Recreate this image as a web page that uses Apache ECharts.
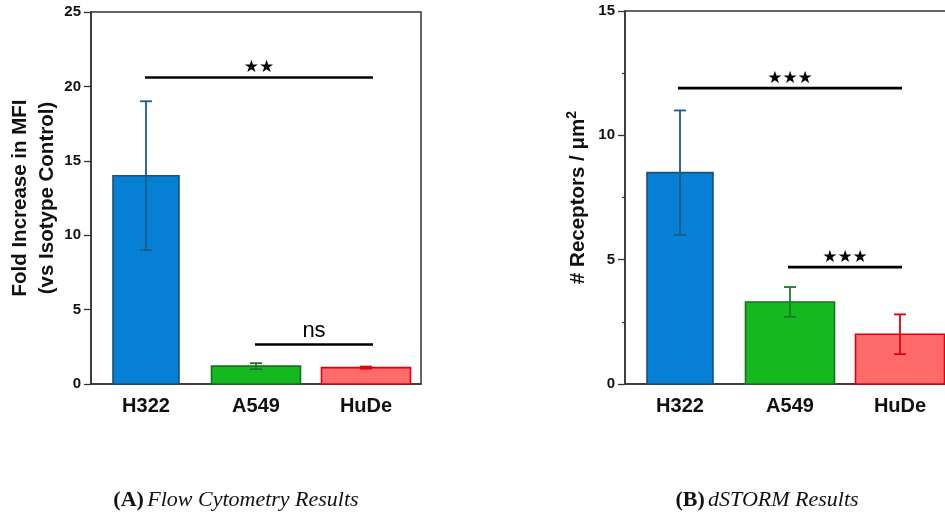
<!DOCTYPE html>
<html>
<head>
<meta charset="utf-8">
<script src="https://cdn.jsdelivr.net/npm/echarts@6/dist/echarts.min.js"></script>
<style>
  html, body { margin: 0; padding: 0; background: #fff; overflow: hidden; }
  #chart { width: 960px; height: 519px; }
</style>
</head>
<body>
<div id="chart"></div>
<script>
// Cell lines shown in both panels
const categories = ['H322', 'A549', 'HuDe'];

// (A) flow cytometry: fold increase in MFI, mean and error half-width
const flowMean = [14.0, 1.2, 1.1];
const flowErr = [5.0, 0.2, 0.07];

// (B) dSTORM: receptors per square micron, mean and error half-width
const stormMean = [8.5, 3.3, 2.0];
const stormErr = [2.5, 0.6, 0.8];

// Significance brackets: [from category, to category, height, label]
const flowSig = [[0, 2, 20.6, '**'], [1, 2, 2.65, 'ns']];
const stormSig = [[0, 2, 11.9, '***'], [1, 2, 4.7, '***']];

// Axis ranges
const flowAxis = { min: 0, max: 25, interval: 5 };
const stormAxis = { min: 0, max: 15, interval: 5 };

// ---- styling ----
const barWidths = [66, 89, 89];
const fillColors = ['#0580d5', '#13b91f', '#ff6b6b'];
const edgeColors = ['#1b4f7e', '#1c6f22', '#e0000c'];
const errColors = ['#1b5a88', '#1c7a27', '#e0000c'];
const axisColor = '#333';
const sansBold = { fontFamily: 'Liberation Sans', fontWeight: 'bold', color: '#111' };

function barSeries(grid, means) {
  return {
    type: 'custom', xAxisIndex: grid, yAxisIndex: grid,
    data: means.map((v, i) => [i, v]),
    encode: { x: 0, y: 1 },
    renderItem(params, api) {
      const i = api.value(0);
      const base = api.coord([i, 0]);
      const top = api.coord([i, api.value(1)]);
      const w = barWidths[i];
      return {
        type: 'rect',
        shape: { x: base[0] - w / 2, y: top[1], width: w, height: base[1] - top[1] },
        style: { fill: fillColors[i], stroke: edgeColors[i], lineWidth: 1.6 }
      };
    }
  };
}

function errorSeries(grid, means, errs) {
  return {
    type: 'custom', xAxisIndex: grid, yAxisIndex: grid, z: 5,
    data: means.map((v, i) => [i, v - errs[i], v + errs[i]]),
    encode: { x: 0, y: [1, 2] },
    renderItem(params, api) {
      const i = api.value(0);
      const lo = api.coord([i, api.value(1)]);
      const hi = api.coord([i, api.value(2)]);
      const cap = 6;
      const st = { stroke: errColors[i], lineWidth: 1.8 };
      return {
        type: 'group',
        children: [
          { type: 'line', shape: { x1: lo[0], y1: lo[1], x2: hi[0], y2: hi[1] }, style: st },
          { type: 'line', shape: { x1: lo[0] - cap, y1: lo[1], x2: lo[0] + cap, y2: lo[1] }, style: st },
          { type: 'line', shape: { x1: hi[0] - cap, y1: hi[1], x2: hi[0] + cap, y2: hi[1] }, style: st }
        ]
      };
    }
  };
}

function sigSeries(grid, sig, pad) {
  return {
    type: 'custom', xAxisIndex: grid, yAxisIndex: grid, z: 6,
    data: sig.map(s => [s[0], s[1], s[2]]),
    encode: { x: [0, 1], y: 2 },
    renderItem(params, api) {
      const a = api.coord([api.value(0), api.value(2)]);
      const b = api.coord([api.value(1), api.value(2)]);
      const x1 = a[0] + pad[0], x2 = b[0] + pad[1];
      const label = sig[params.dataIndex][3];
      const isNs = label === 'ns';
      return {
        type: 'group',
        children: [
          { type: 'line', shape: { x1: x1, y1: a[1], x2: x2, y2: a[1] },
            style: { stroke: '#000', lineWidth: 2.6 } },
          { type: 'text', x: (x1 + x2) / 2, y: a[1] - (isNs ? 14 : 10),
            style: {
              text: isNs ? 'ns' : label.replace(/\*/g, '\u2605'),
              fontFamily: isNs ? 'Liberation Sans' : 'DejaVu Sans',
              fontSize: isNs ? 22 : 17,
              fill: '#000', align: 'center', verticalAlign: 'middle'
            } }
        ]
      };
    }
  };
}

function valueAxis(grid, cfg, name, gap, minor) {
  return {
    type: 'value', gridIndex: grid,
    min: cfg.min, max: cfg.max, interval: cfg.interval,
    name: name, nameLocation: 'middle', nameGap: gap, nameRotate: 90,
    nameTextStyle: Object.assign({
      fontSize: 20.5, lineHeight: 27,
      rich: { sup: { fontFamily: 'Liberation Sans', fontWeight: 'bold', color: '#111', fontSize: 14, verticalAlign: 'top', lineHeight: 27 } }
    }, sansBold),
    axisLine: { show: true, lineStyle: { color: axisColor, width: 1.5 } },
    axisTick: { show: true, length: 7, lineStyle: { color: axisColor, width: 1.3 } },
    minorTick: { show: minor, splitNumber: 2, length: 3, lineStyle: { color: axisColor, width: 1.2 } },
    axisLabel: Object.assign({ fontSize: 15, margin: 10 }, sansBold),
    splitLine: { show: false }
  };
}

function catAxis(grid) {
  return {
    type: 'category', gridIndex: grid, data: categories,
    axisLine: { lineStyle: { color: axisColor, width: 1.5 } },
    axisTick: { alignWithLabel: true, length: 6, lineStyle: { color: axisColor, width: 1.3 } },
    axisLabel: Object.assign({ fontSize: 20, margin: 12 }, sansBold)
  };
}

const chart = echarts.init(document.getElementById('chart'), null, { renderer: 'canvas' });

const captionRich = {
  b: { fontFamily: 'Liberation Serif', fontWeight: 'bold', fontSize: 22, fill: '#111' },
  i: { fontFamily: 'Liberation Serif', fontStyle: 'italic', fontSize: 22, fill: '#111' }
};

chart.setOption({
  animation: false,
  backgroundColor: '#fff',
  grid: [
    { left: 91, top: 12, width: 330, height: 372, show: true, borderColor: axisColor, borderWidth: 1.5, backgroundColor: 'transparent' },
    { left: 625, top: 11, width: 330, height: 373, show: true, borderColor: axisColor, borderWidth: 1.5, backgroundColor: 'transparent' }
  ],
  xAxis: [
    catAxis(0),
    catAxis(1),
    // small ticks at category boundaries in panel B
    {
      type: 'category', gridIndex: 1, data: categories,
      axisLine: { show: false }, axisLabel: { show: false },
      axisTick: { alignWithLabel: false, length: 3, lineStyle: { color: axisColor, width: 1.2 } }
    }
  ],
  yAxis: [
    valueAxis(0, flowAxis, 'Fold Increase in MFI\n(vs Isotype Control)', 30, false),
    valueAxis(1, stormAxis, '# Receptors / \u03bcm{sup|2}', 33, true)
  ],
  series: [
    barSeries(0, flowMean),
    errorSeries(0, flowMean, flowErr),
    sigSeries(0, flowSig, [-1, 7]),
    barSeries(1, stormMean),
    errorSeries(1, stormMean, stormErr),
    sigSeries(1, stormSig, [-2, 2])
  ],
  graphic: [
    {
      type: 'text', x: 236, y: 500,
      style: { text: '{b|(A)} {i|Flow Cytometry Results}', align: 'center', verticalAlign: 'middle', rich: captionRich }
    },
    {
      type: 'text', x: 767, y: 500,
      style: { text: '{b|(B)} {i|dSTORM Results}', align: 'center', verticalAlign: 'middle', rich: captionRich }
    }
  ]
});
</script>
</body>
</html>
